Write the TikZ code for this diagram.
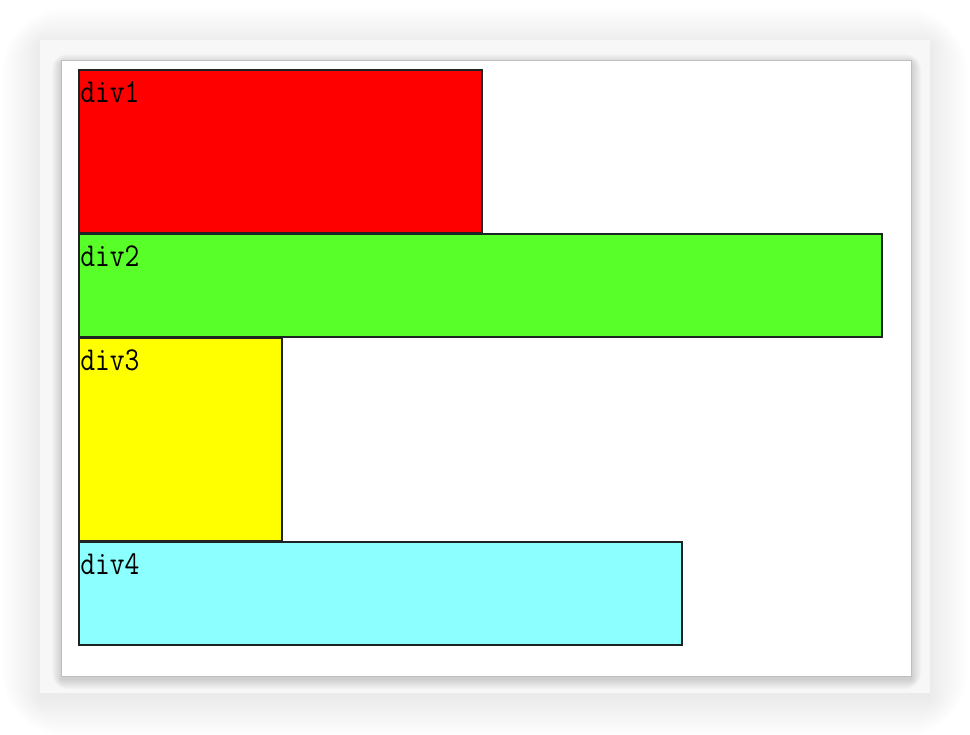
\documentclass[tikz,border=0pt]{standalone}
\usepackage{fontspec}
\definecolor{DivRed}{RGB}{255,0,0}
\definecolor{DivGreen}{RGB}{88,255,40}
\definecolor{DivYellow}{RGB}{255,255,0}
\definecolor{DivCyan}{RGB}{140,255,255}
\definecolor{EdgeColor}{RGB}{30,36,34}
\definecolor{PanelGray}{RGB}{247,247,247}
\definecolor{FrameGray}{RGB}{190,190,190}
\usetikzlibrary{positioning}
\newcommand{\divname}[1]{\scalebox{0.86}[1]{#1}}
\tikzset{
  divbox/.style={draw=EdgeColor, line width=0.04cm, anchor=north west, inner sep=0pt},
  divlabel/.style={anchor=base west, inner sep=0pt, font=\ttfamily\fontsize{19pt}{22pt}\selectfont, text=black}
}
\begin{document}
\begin{tikzpicture}[x=0.02cm, y=-0.02cm]
          \useasboundingbox (0,0) rectangle (970,734);
          \fill[white] (0,0) rectangle (970,734);
          % soft shadow of the outer panel
          \foreach \i in {0,...,19}
            \fill[black, opacity=0.0035, rounded corners=2*\i] (40-2*\i,45-2*\i) rectangle (930+2*\i,699+2*\i);
          \fill[PanelGray] (40,40) rectangle (930,693);
          % shadow of the page frame
          \foreach \i in {0,...,9}
            \fill[black, opacity=0.016, rounded corners=\i] (61-\i,63-\i) rectangle (912+\i,680+\i);
          \draw[FrameGray, fill=white, line width=0.02cm] (61,60) rectangle (911,676);
          % the four divs
          \node[divbox, fill=DivRed, minimum width=8.06cm, minimum height=3.26cm] (div1) at (78,69) {};
          \node[divbox, fill=DivGreen, minimum width=16.06cm, minimum height=2.06cm] (div2) at (78,233) {};
          \node[divbox, fill=DivYellow, minimum width=4.06cm, minimum height=4.06cm] (div3) at (78,337) {};
          \node[divbox, fill=DivCyan, minimum width=12.06cm, minimum height=2.06cm] (div4) at (78,541) {};
          \node[divlabel] (lbl1) at (80,102) {\divname{div1}};
          \node[divlabel] (lbl2) at (80,266) {\divname{div2}};
          \node[divlabel] (lbl3) at (80,370) {\divname{div3}};
          \node[divlabel] (lbl4) at (80,574) {\divname{div4}};
        \end{tikzpicture}
\end{document}
